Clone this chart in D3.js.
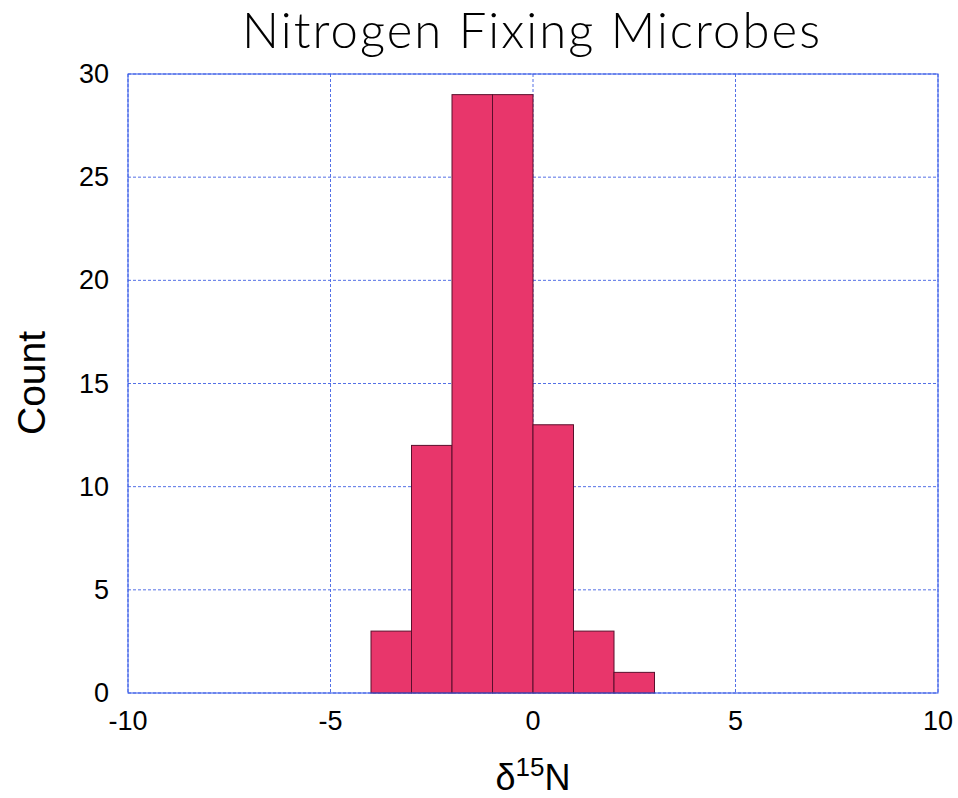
<!DOCTYPE html>
<html>
<head>
<meta charset="utf-8">
<script src="https://cdn.jsdelivr.net/npm/d3@7"></script>
<style>
  body { margin: 0; background: #fff; }
  text { font-family: "Liberation Sans", Arial, sans-serif; fill: #000; }
</style>
</head>
<body>
<svg id="chart" width="958" height="798"></svg>
<script>
// histogram bins (left edge, right edge) and counts
var binStarts = [-4, -3, -2, -1, 0, 1, 2];
var binWidth = 1;
var counts = [3, 12, 29, 29, 13, 3, 1];
var xTicks = [-10, -5, 0, 5, 10];
var yTicks = [0, 5, 10, 15, 20, 25, 30];

var margin = {top: 74, right: 20, bottom: 105, left: 128},
    width = 938 - margin.left,
    height = 693 - margin.top;

var svg = d3.select('#chart');
var g = svg.append('g').attr('transform', 'translate(' + margin.left + ',' + margin.top + ')');

var xScale = d3.scaleLinear().domain([-10, 10]).range([0, width]);
var yScale = d3.scaleLinear().domain([0, 30]).range([height, 0]);

// grid lines
g.selectAll('.vgrid').data(xTicks).enter().append('line')
    .attr('x1', d => xScale(d)).attr('x2', d => xScale(d))
    .attr('y1', 0).attr('y2', height)
    .attr('stroke', '#5470e6').attr('stroke-width', 1)
    .attr('stroke-dasharray', '3,2');
g.selectAll('.hgrid').data(yTicks).enter().append('line')
    .attr('x1', 0).attr('x2', width)
    .attr('y1', d => yScale(d)).attr('y2', d => yScale(d))
    .attr('stroke', '#5470e6').attr('stroke-width', 1)
    .attr('stroke-dasharray', '3,2');

// bars
g.selectAll('.bar').data(counts).enter().append('rect')
    .attr('class', 'bar')
    .attr('x', (d, i) => xScale(binStarts[i]))
    .attr('width', (d, i) => xScale(binStarts[i] + binWidth) - xScale(binStarts[i]))
    .attr('y', d => yScale(d))
    .attr('height', d => height - yScale(d))
    .attr('fill', '#e8366b')
    .attr('stroke', '#5a0f2c')
    .attr('stroke-width', 1);

// frame
g.append('rect')
    .attr('x', 0).attr('y', 0).attr('width', width).attr('height', height)
    .attr('fill', 'none').attr('stroke', '#2f55e8').attr('stroke-width', 1);

// tick labels
g.selectAll('.xlab').data(xTicks).enter().append('text')
    .attr('x', d => xScale(d)).attr('y', height + 37)
    .attr('text-anchor', 'middle').style('font-size', '27px')
    .text(d => d);
g.selectAll('.ylab').data(yTicks).enter().append('text')
    .attr('x', -19).attr('y', d => yScale(d) + 9)
    .attr('text-anchor', 'end').style('font-size', '27px')
    .text(d => d);

// title
svg.append('text')
    .attr('x', 531).attr('y', 48)
    .attr('text-anchor', 'middle')
    .style('font-family', 'Lato, sans-serif').style('font-weight', 300)
    .style('font-size', '49px')
    .attr('textLength', 578).attr('lengthAdjust', 'spacing')
    .text('Nitrogen Fixing Microbes');

// y label
svg.append('text')
    .attr('transform', 'translate(45,383) rotate(-90)')
    .attr('text-anchor', 'middle').style('font-size', '39px')
    .text('Count');

// x label
var xl = svg.append('text')
    .attr('x', 533).attr('y', 790)
    .attr('text-anchor', 'middle').style('font-size', '36px');
xl.append('tspan').text('δ');
xl.append('tspan').attr('dy', -14).style('font-size', '26px').text('15');
xl.append('tspan').attr('dy', 14).text('N');
</script>
</body>
</html>
